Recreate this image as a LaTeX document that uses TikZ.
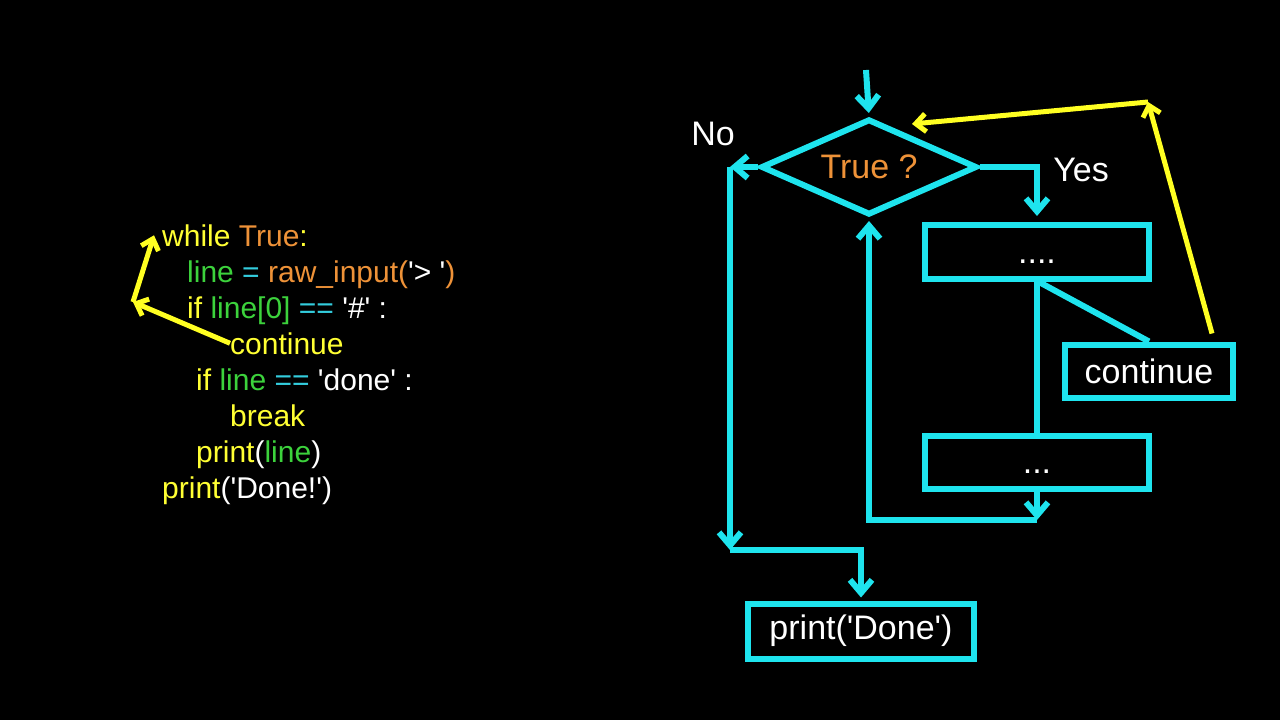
\documentclass[tikz,border=0pt]{standalone}
\usepackage{fontspec}
\setmainfont{Liberation Sans}
\usepackage{xcolor}
\usepackage{tikz}
\usetikzlibrary{arrows.meta,shapes.geometric}
\definecolor{flowcyan}{HTML}{1EE4EE}
\definecolor{loopyellow}{HTML}{FFFF22}
\definecolor{kwyellow}{HTML}{FFFF33}
\definecolor{fnorange}{HTML}{EE9238}
\definecolor{vargreen}{HTML}{3CD23C}
\definecolor{opcyan}{HTML}{33CCDD}
\newcommand{\sq}{\textquotesingle}

\begin{document}
\begin{tikzpicture}[x=1pt,y=-1pt,
  codeline/.style={anchor=base west, inner sep=0pt, font=\fontsize{30}{36}\selectfont, text=white},
  flowbox/.style={draw=flowcyan, line width=6pt, rectangle, inner sep=0pt, text=white, font=\fontsize{34}{40}\selectfont},
  dotbox/.style={flowbox, text height=22pt, text depth=0pt},
  flowline/.style={draw=flowcyan, line width=6pt},
  flowarrow/.style={flowline, -{Straight Barb[length=13pt,width=22pt]}},
  looparrow/.style={draw=loopyellow, line width=5pt, -{Straight Barb[length=10pt,width=18pt]}},
  lbl/.style={text=white, font=\fontsize{34}{40}\selectfont}]
\fill[black] (0,0) rectangle (1280,720);
\useasboundingbox (0,0) rectangle (1280,720);

\node[codeline] (l1) at (162,246) {\color{kwyellow}while \color{fnorange}True\color{kwyellow}:};
\node[codeline] (l2) at (187,282) {\color{vargreen}line \color{opcyan}= \color{fnorange}raw\_input(\color{white}\sq> \sq\color{fnorange})};
\node[codeline] (l3) at (187,318) {\color{kwyellow}if \color{vargreen}line[0] \color{opcyan}== \color{white}\sq\#\sq{} :};
\node[codeline] (l4) at (230,354) {\color{kwyellow}continue};
\node[codeline] (l5) at (196,390) {\color{kwyellow}if \color{vargreen}line \color{opcyan}== \color{white}\sq done\sq{} :};
\node[codeline] (l6) at (230,426) {\color{kwyellow}break};
\node[codeline] (l7) at (196,462) {\color{kwyellow}print\color{white}(\color{vargreen}line\color{white})};
\node[codeline] (l8) at (162,498) {\color{kwyellow}print\color{white}(\sq Done!\sq)};

\coordinate (yl) at (133,302);
\draw[looparrow] (l4.west) -- (yl);
\draw[looparrow] (yl) -- ([xshift=-8pt]l1.west);

\node[flowbox, diamond, aspect=2.6, minimum width=216pt, minimum height=96pt, text=fnorange] (dec) at (869,167) {True ?};
\node[dotbox, minimum width=224pt, minimum height=54pt] (b1) at (1037,252) {....};
\node[flowbox, minimum width=168pt, minimum height=53pt] (cont) at (1149,371) {continue};
\node[dotbox, minimum width=224pt, minimum height=53pt] (b2) at (1037,462) {...};
\node[flowbox, minimum width=226pt, minimum height=55pt] (pd) at (861,631) {print(\sq Done\sq)};
\node[lbl] (no) at (713,134) {No};
\node[lbl] (yes) at (1081,170) {Yes};

\coordinate (top) at (866,70);
\coordinate (noL) at (730,167);
\coordinate (noB) at (730,550);
\coordinate (lp) at (1037,520);
\coordinate (yc) at (1148,102);
\coordinate (yt) at (912,124);

\draw[flowarrow, shorten >=3pt] (top) -- (dec.north);
\draw[flowarrow] (dec.west) -- (noL);
\draw[flowarrow] (noL) -- (noB);
\draw[flowarrow, shorten >=3pt] (noB) -| (pd.north);
\draw[flowarrow, shorten >=6pt] (dec.east) -| (b1.north);
\draw[flowline] (b1.south) -- (b2.north);
\draw[flowline] ([xshift=2pt]b1.south) -- (cont.north);
\draw[flowarrow] (b2.south) -- (lp);
\draw[flowarrow, shorten >=3pt] (lp) -| (dec.south);
\draw[looparrow] ([xshift=63pt,yshift=8pt]cont.north) -- (yc);
\draw[looparrow] (yc) -- (yt);
\end{tikzpicture}
\end{document}
